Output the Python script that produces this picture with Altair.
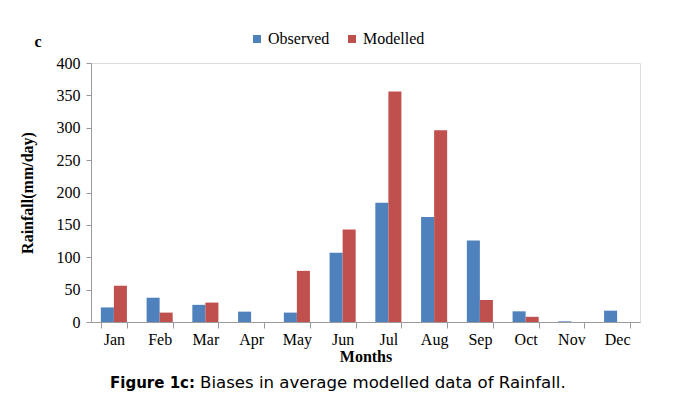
import altair as alt
import pandas as pd

months = ["Jan", "Feb", "Mar", "Apr", "May", "Jun", "Jul", "Aug", "Sep", "Oct", "Nov", "Dec"]
observed = [22.5, 37.5, 26.5, 16, 14.5, 107, 184, 162, 126, 16.5, 1, 17.5]
modelled = [56, 14.5, 30, 0, 79, 143, 356, 296, 34, 8, 0, 0]
series = ["Observed", "Modelled"]
colors = ["#4F81BD", "#C0504D"]

df = pd.DataFrame({"Month": months, "Observed": observed, "Modelled": modelled})
long = df.melt(id_vars="Month", value_vars=series, var_name="Series", value_name="Rainfall")

serif = "Liberation Serif"

bars = alt.Chart(long).mark_bar().encode(
    x=alt.X("Month:N", sort=months,
            scale=alt.Scale(paddingInner=0.43, paddingOuter=0.215),
            axis=alt.Axis(title="Months", labelAngle=0, tickBand="extent",
                          labelFont=serif, labelFontSize=16, labelColor="black",
                          titleFont=serif, titleFontSize=16, titleFontWeight="bold",
                          titleColor="black", titlePadding=1, labelPadding=3,
                          domainColor="#9a9a9a", tickColor="#9a9a9a", tickSize=6)),
    xOffset=alt.XOffset("Series:N", sort=series, scale=alt.Scale(paddingInner=0, paddingOuter=0)),
    y=alt.Y("Rainfall:Q", scale=alt.Scale(domain=[0, 400]),
            axis=alt.Axis(title="Rainfall(mm/day)", values=list(range(0, 401, 50)), grid=False,
                          labelFont=serif, labelFontSize=16, labelColor="black",
                          titleFont=serif, titleFontSize=16, titleFontWeight="bold",
                          titleColor="black", titlePadding=21, labelPadding=6,
                          domainColor="#9a9a9a", tickColor="#9a9a9a", tickSize=5)),
    color=alt.Color("Series:N", sort=series,
                    scale=alt.Scale(domain=series, range=colors),
                    legend=alt.Legend(title=None, orient="none", direction="horizontal",
                                      legendX=158, legendY=-32, symbolType="square",
                                      symbolSize=64, symbolStrokeWidth=0,
                                      labelFont=serif, labelFontSize=16, labelColor="black",
                                      columnPadding=14, labelOffset=3)),
)

one = pd.DataFrame({"a": [0]})
label_c = alt.Chart(one).mark_text(text="c", font=serif, fontSize=16, fontWeight="bold",
                                   align="center", baseline="middle", color="black").encode(
    x=alt.value(-53), y=alt.value(-21))
cap_bold = alt.Chart(one).mark_text(text="Figure 1c:", font="DejaVu Sans", fontSize=15,
                                    fontWeight="bold", align="right", baseline="middle",
                                    color="black").encode(x=alt.value(104), y=alt.value(320))
cap_rest = alt.Chart(one).mark_text(text="Biases in average modelled data of Rainfall.",
                                    font="DejaVu Sans", fontSize=16.6, align="left",
                                    baseline="middle", color="black").encode(
    x=alt.value(109), y=alt.value(320))

chart = alt.layer(bars, label_c, cap_bold, cap_rest).properties(
    width=549, height=259,
    autosize=alt.AutoSizeParams(type="none"),
    padding={"left": 83, "top": 55, "right": 29, "bottom": 81},
).configure_view(stroke=None).configure(background="white")

chart.save("out.html", embed_options={"renderer": "svg", "actions": False})
